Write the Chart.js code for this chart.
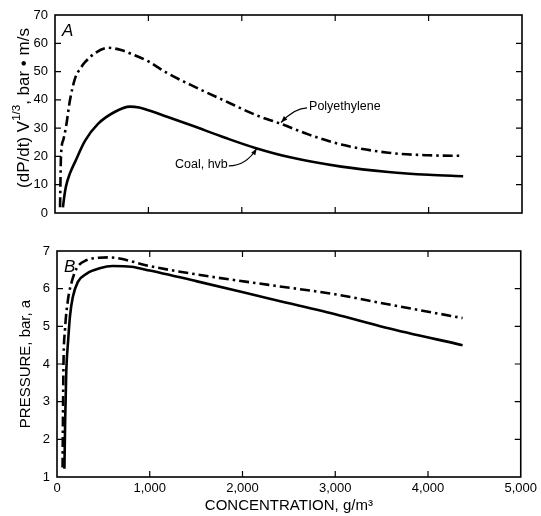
<!DOCTYPE html>
<html>
<head>
<meta charset="utf-8">
<script src="https://cdn.jsdelivr.net/npm/chart.js@4.4.1/dist/chart.umd.min.js"></script>
<style>
  html, body { margin: 0; padding: 0; background: #fff; }
  #wrap { position: relative; width: 541px; height: 516px; }
  canvas { position: absolute; left: 0; }
  #rate { top: 0; }
  #press { top: 232px; }
</style>
</head>
<body>
<div id="wrap">
  <canvas id="rate" width="541" height="232"></canvas>
  <canvas id="press" width="541" height="284"></canvas>
</div>
<script>
// tick values
const concTicks = [0, 1000, 2000, 3000, 4000, 5000];
const rateTicks = [0, 10, 20, 30, 40, 50, 60, 70];
const pressTicks = [1, 2, 3, 4, 5, 6, 7];

// panel A: (dP/dt) V^1/3, bar m/s
const polyRateConc = [54, 58, 64, 90, 118, 161, 214, 280, 321, 428, 568, 707, 850, 1000, 1200, 1458, 1822, 2176, 2412, 2712, 3065, 3569, 4000, 4370];
const polyRate = [2, 10, 20, 26, 30.5, 40, 47.5, 51.5, 53.3, 56.5, 58.4, 57.6, 55.8, 53.6, 49.5, 45.2, 39.6, 34.3, 31.6, 27.8, 24.2, 21.3, 20.4, 20.2];
const coalRateConc = [85, 100, 118, 160, 214, 321, 460, 643, 803, 900, 1000, 1200, 1458, 1822, 2144, 2530, 3065, 3569, 4000, 4370];
const coalRate = [2, 6, 9.5, 14, 18, 25.5, 31.5, 35.8, 37.6, 37.3, 36.3, 34, 31, 26.6, 23, 19.6, 16.4, 14.5, 13.5, 13];

// panel B: pressure, bar a
const polyPressConc = [60, 64, 70, 86, 118, 161, 214, 321, 450, 568, 675, 1000, 1500, 2283, 3000, 3537, 4373];
const polyPress = [1.25, 2.5, 4, 4.9, 5.7, 6.2, 6.55, 6.76, 6.82, 6.83, 6.8, 6.6, 6.38, 6.1, 5.85, 5.6, 5.22];
const coalPressConc = [80, 88, 100, 121, 140, 170, 225, 321, 460, 600, 800, 1000, 1500, 2283, 3000, 3537, 4373];
const coalPress = [1.22, 2.5, 3.8, 4.65, 5.27, 5.77, 6.18, 6.4, 6.54, 6.6, 6.58, 6.48, 6.2, 5.74, 5.32, 4.97, 4.5];

const FONT = "'Liberation Sans', Arial, sans-serif";
Chart.defaults.font.family = FONT;
Chart.defaults.color = "#000";

function pts(xs, ys) {
  return xs.map(function (x, i) { return { x: x, y: ys[i] }; });
}

function lineSet(label, xs, ys, dashed) {
  return {
    label: label,
    data: pts(xs, ys),
    borderColor: "#000",
    borderWidth: 2.6,
    borderDash: dashed ? [10, 4, 2.5, 4] : [],
    pointRadius: 0,
    fill: false,
    cubicInterpolationMode: "monotone"
  };
}

function drawLeader(ctx, x0, y0, cx, cy, x1, y1) {
  ctx.beginPath();
  ctx.moveTo(x0, y0);
  ctx.quadraticCurveTo(cx, cy, x1, y1);
  ctx.lineWidth = 1.2;
  ctx.stroke();
  const ang = Math.atan2(y1 - cy, x1 - cx);
  ctx.beginPath();
  ctx.moveTo(x1, y1);
  ctx.lineTo(x1 - 7 * Math.cos(ang - 0.35), y1 - 7 * Math.sin(ang - 0.35));
  ctx.lineTo(x1 - 7 * Math.cos(ang + 0.35), y1 - 7 * Math.sin(ang + 0.35));
  ctx.closePath();
  ctx.fill();
}

// frame, inward ticks, panel letter, labels
const framePlugin = {
  id: "frame",
  afterDatasetsDraw(chart, args, opts) {
    const ctx = chart.ctx;
    const a = chart.chartArea;
    const sx = chart.scales.x, sy = chart.scales.y;
    ctx.save();
    ctx.strokeStyle = "#000";
    ctx.fillStyle = "#000";
    ctx.lineWidth = 1.6;
    ctx.strokeRect(a.left, a.top, a.right - a.left, a.bottom - a.top);
    ctx.lineWidth = 1.2;
    ctx.beginPath();
    sx.ticks.forEach(function (t) {
      const px = sx.getPixelForValue(t.value);
      if (px <= a.left + 1 || px >= a.right - 1) return;
      ctx.moveTo(px, a.bottom); ctx.lineTo(px, a.bottom - 6);
      ctx.moveTo(px, a.top); ctx.lineTo(px, a.top + 6);
    });
    sy.ticks.forEach(function (t) {
      const py = sy.getPixelForValue(t.value);
      if (py <= a.top + 1 || py >= a.bottom - 1) return;
      ctx.moveTo(a.left, py); ctx.lineTo(a.left + 6, py);
      ctx.moveTo(a.right, py); ctx.lineTo(a.right - 6, py);
    });
    ctx.stroke();

    ctx.font = "italic 17px " + FONT;
    ctx.textBaseline = "middle";
    ctx.textAlign = "left";
    ctx.fillText(opts.letter, a.left + 7, a.top + 16);

    (opts.notes || []).forEach(function (n) {
      ctx.font = "12.5px " + FONT;
      const tx = sx.getPixelForValue(n.tx), ty = sy.getPixelForValue(n.ty);
      const ax = sx.getPixelForValue(n.ax), ay = sy.getPixelForValue(n.ay);
      const w = ctx.measureText(n.text).width;
      ctx.fillText(n.text, tx, ty);
      if (n.side === "left") {
        drawLeader(ctx, tx - 2, ty + 1, tx - 14, ty + 1, ax, ay);
      } else {
        drawLeader(ctx, tx + w + 1, ty + 1, tx + w + 18, ty + 1, ax, ay);
      }
    });

    if (opts.rateTitle) {
      // y title with superscript, drawn rotated
      ctx.translate(23, 108);
      ctx.rotate(-Math.PI / 2);
      const big = "17px " + FONT, small = "11.5px " + FONT;
      const p1 = "(dP/dt) V", p2 = "1/3", p3 = ", bar \u2022 m/s";
      ctx.font = big;
      const w1 = ctx.measureText(p1).width, w3 = ctx.measureText(p3).width;
      ctx.font = small;
      const w2 = ctx.measureText(p2).width;
      let x = -(w1 + w2 + w3) / 2;
      ctx.textBaseline = "alphabetic";
      ctx.font = big;
      ctx.fillText(p1, x, 6);
      x += w1;
      ctx.font = small;
      ctx.fillText(p2, x, -3);
      x += w2;
      ctx.font = big;
      ctx.fillText(p3, x, 6);
    }
    ctx.restore();
  }
};

function xScale(showLabels, height) {
  return {
    type: "linear",
    min: 0,
    max: 5000,
    afterBuildTicks: function (s) { s.ticks = concTicks.map(function (v) { return { value: v }; }); },
    afterFit: function (s) { s.height = height; },
    grid: { display: false, drawTicks: false },
    border: { display: false },
    ticks: {
      display: showLabels,
      padding: 4,
      font: { size: 13 },
      callback: function (v) { return v.toLocaleString("en-US"); }
    },
    title: {
      display: showLabels,
      text: "CONCENTRATION, g/m\u00B3",
      font: { size: 15 },
      padding: { top: 0, bottom: 1 }
    }
  };
}

function yScale(min, max, tickVals, width, title) {
  return {
    type: "linear",
    min: min,
    max: max,
    afterBuildTicks: function (s) { s.ticks = tickVals.map(function (v) { return { value: v }; }); },
    afterFit: function (s) { s.width = width; },
    grid: { display: false, drawTicks: false },
    border: { display: false },
    ticks: { padding: 7, font: { size: 13 } },
    title: {
      display: !!title,
      text: title || "",
      font: { size: 15 },
      padding: { top: 17, bottom: 0 }
    }
  };
}

new Chart(document.getElementById("rate"), {
  type: "line",
  data: {
    datasets: [
      lineSet("Polyethylene", polyRateConc, polyRate, true),
      lineSet("Coal, hvb", coalRateConc, coalRate, false)
    ]
  },
  options: {
    responsive: false,
    devicePixelRatio: 1,
    animation: false,
    layout: { padding: { top: 15, right: 19, left: 0, bottom: 0 } },
    scales: { x: xScale(false, 19), y: yScale(0, 70, rateTicks, 55, null) },
    plugins: {
      legend: { display: false },
      tooltip: { enabled: false },
      frame: {
        letter: "A",
        rateTitle: true,
        notes: [
          { text: "Polyethylene", tx: 2720, ty: 37.5, ax: 2420, ay: 32, side: "left" },
          { text: "Coal, hvb", tx: 1285, ty: 17, ax: 2160, ay: 22.8, side: "right" }
        ]
      }
    }
  },
  plugins: [framePlugin]
});

new Chart(document.getElementById("press"), {
  type: "line",
  data: {
    datasets: [
      lineSet("Polyethylene", polyPressConc, polyPress, true),
      lineSet("Coal, hvb", coalPressConc, coalPress, false)
    ]
  },
  options: {
    responsive: false,
    devicePixelRatio: 1,
    animation: false,
    layout: { padding: { top: 19, right: 18, left: 0, bottom: 0 } },
    scales: { x: xScale(true, 39), y: yScale(1, 7, pressTicks, 57, "PRESSURE, bar, a") },
    plugins: {
      legend: { display: false },
      tooltip: { enabled: false },
      frame: { letter: "B" }
    }
  },
  plugins: [framePlugin]
});
</script>
</body>
</html>
